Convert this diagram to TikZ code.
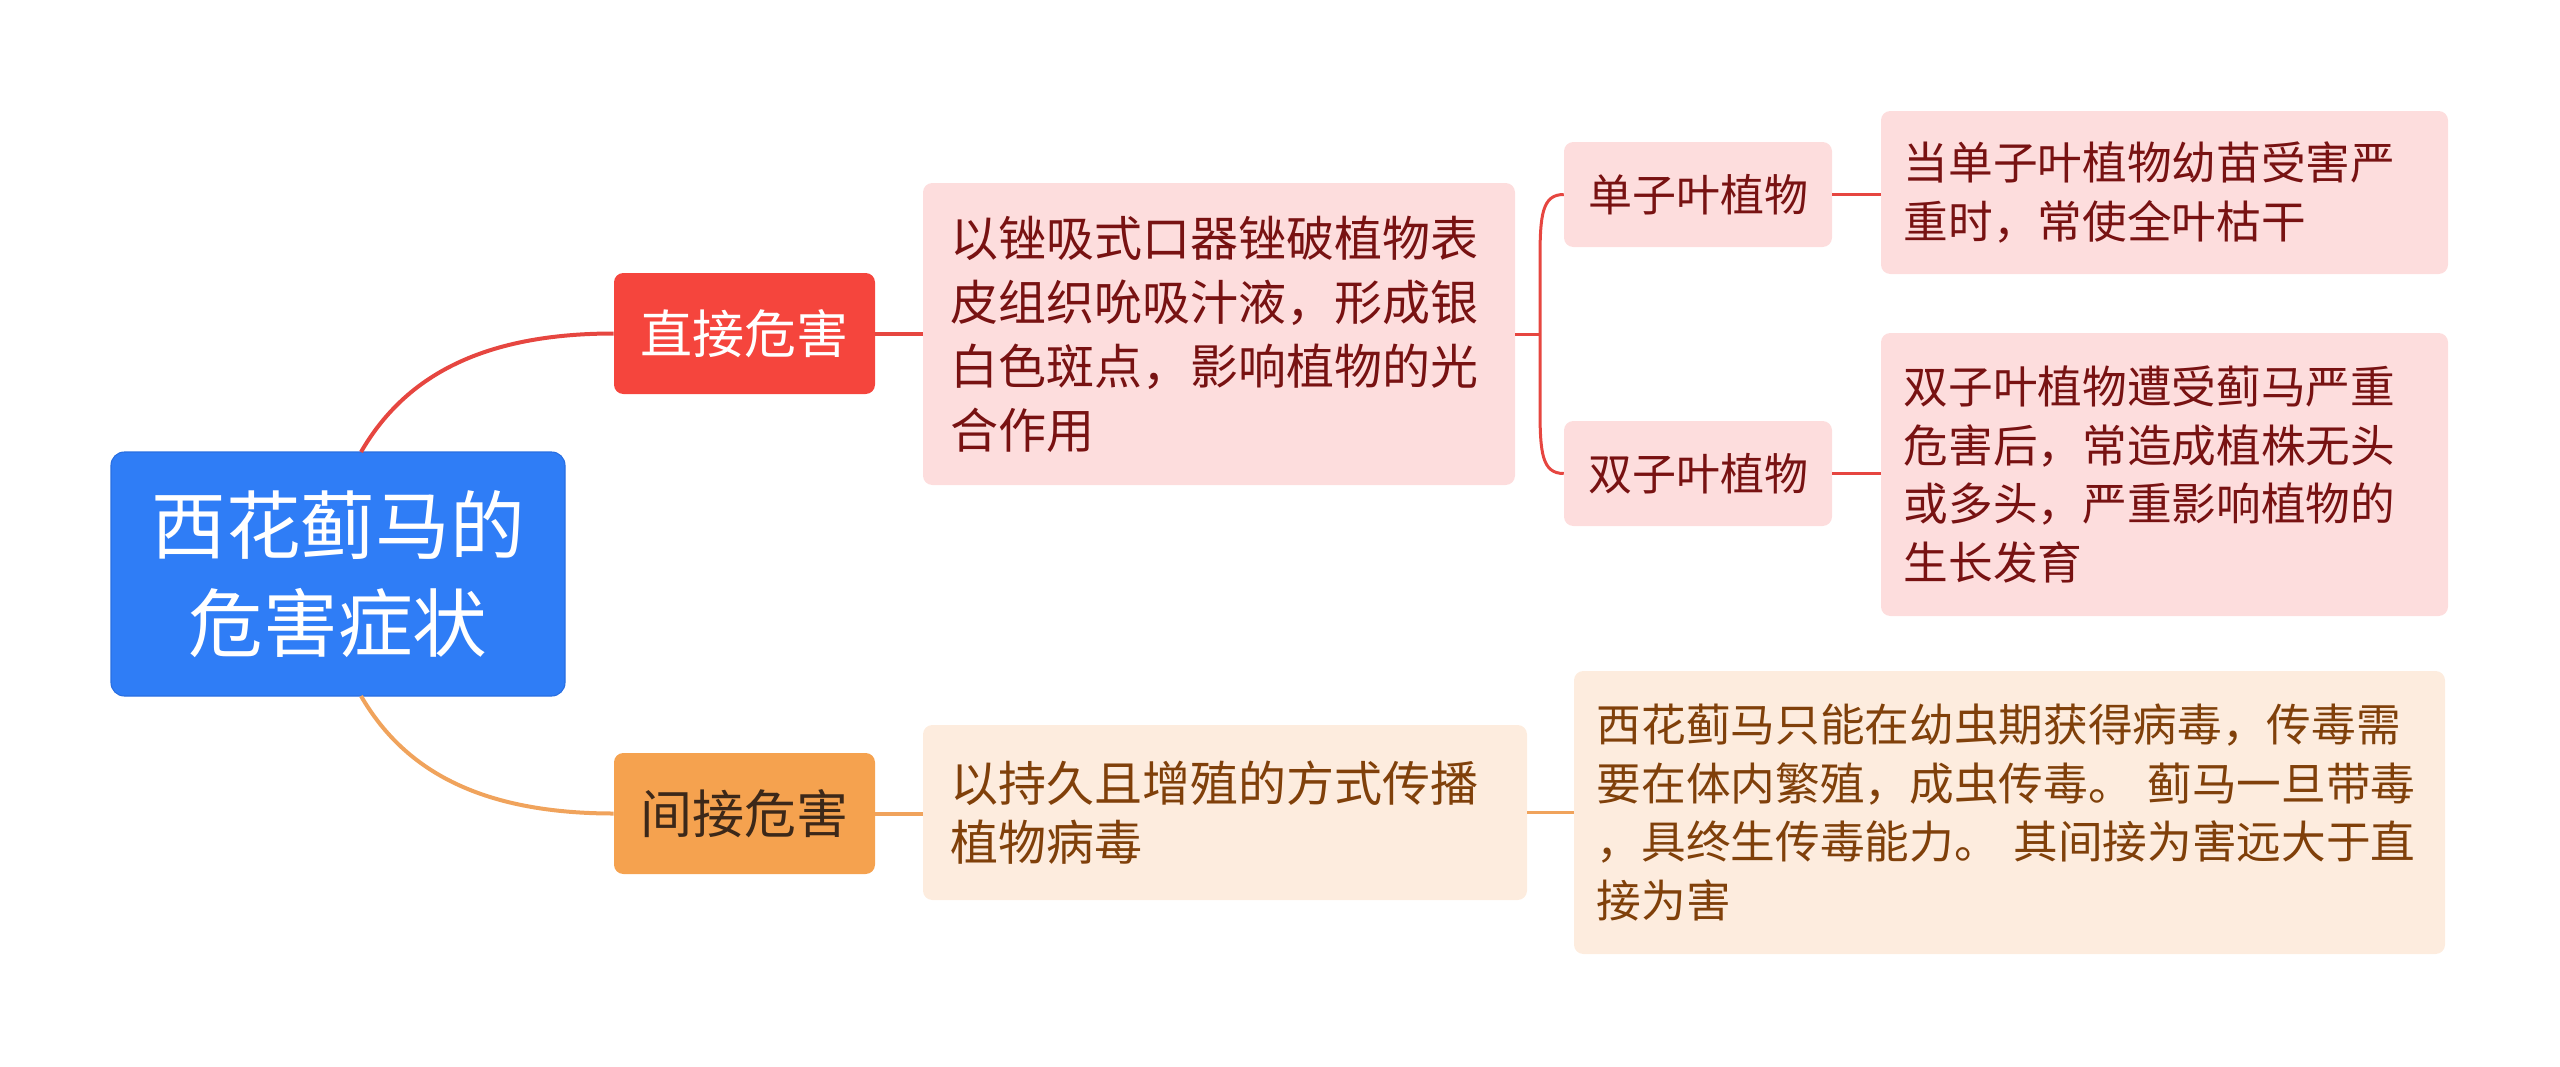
\documentclass[tikz,border=0pt]{standalone}
\usepackage{fontspec}
\setmainfont{Noto Sans CJK SC}
\usepackage{xcolor}

\definecolor{rootblue}{RGB}{47,125,246}
\definecolor{rootedge}{RGB}{40,110,225}
\definecolor{directred}{RGB}{245,69,61}
\definecolor{indirectorange}{RGB}{245,162,79}
\definecolor{redline}{RGB}{230,70,64}
\definecolor{orangeline}{RGB}{240,163,92}
\definecolor{pinkfill}{RGB}{253,221,221}
\definecolor{pinktext}{RGB}{120,18,18}
\definecolor{peachfill}{RGB}{253,236,222}
\definecolor{peachtext}{RGB}{128,64,10}
\definecolor{darktext}{RGB}{60,40,25}

\begin{document}
\begin{tikzpicture}[x=0.75pt,y=0.75pt,yscale=-1,xscale=1,
  rootbox/.style={fill=rootblue, draw=rootedge, line width=0.8pt, rounded corners=10pt, minimum width=340.5pt, minimum height=183pt, text=white, align=center, font=\fontsize{56}{73}\selectfont},
  topicbox/.style={rounded corners=7pt, minimum width=195.75pt, minimum height=90.75pt, font=\fontsize{39}{48}\selectfont},
  midbox/.style={rounded corners=7pt, inner xsep=20.25pt, align=left, font=\fontsize{36}{48}\selectfont},
  subbox/.style={fill=pinkfill, text=pinktext, rounded corners=7pt, minimum width=201pt, minimum height=78.75pt, font=\fontsize{33}{44}\selectfont},
  leafbox/.style={rounded corners=7pt, inner xsep=17pt, align=left, font=\fontsize{33.5}{44}\selectfont},
  redlink/.style={draw=redline, line width=3pt},
  orangelink/.style={draw=orangeline, line width=3pt}]
\useasboundingbox (0,0) rectangle (2560,1067);

%Root
\node [rootbox] (root) at (338,574) {西花蓟马的\\危害症状};

%Main branches
\node [topicbox, fill=directred, text=white] (direct) at (744.5,333.5) {直接危害};
\node [topicbox, fill=indirectorange, text=darktext] (indirect) at (744.5,813.5) {间接危害};

%Direct damage
\node [midbox, fill=pinkfill, text=pinktext, text width=403.5pt, minimum height=226.5pt] (feed) at (1219,334) {以锉吸式口器锉破植物表\\皮组织吮吸汁液，形成银\\白色斑点，影响植物的光\\合作用};
\node [subbox] (mono) at (1698,194.5) {单子叶植物};
\node [subbox] (dicot) at (1698,473.5) {双子叶植物};
\node [leafbox, fill=pinkfill, text=pinktext, text width=391.25pt, minimum height=122.25pt] (monoleaf) at (2164.5,192.5) {当单子叶植物幼苗受害严\\重时，常使全叶枯干};
\node [leafbox, fill=pinkfill, text=pinktext, text width=391.25pt, minimum height=212.25pt] (dicotleaf) at (2164.5,474.5) {双子叶植物遭受蓟马严重\\危害后，常造成植株无头\\或多头，严重影响植物的\\生长发育};

%Indirect damage
\node [midbox, fill=peachfill, text=peachtext, text width=412.5pt, minimum height=131.25pt, font=\fontsize{36}{44}\selectfont] (virus) at (1225,812.5) {以持久且增殖的方式传播\\植物病毒};
\node [leafbox, fill=peachfill, text=peachtext, text width=619.25pt, minimum height=212.25pt] (virusleaf) at (2009.5,812.5) {西花蓟马只能在幼虫期获得病毒，传毒需\\要在体内繁殖，成虫传毒。 蓟马一旦带毒\\，具终生传毒能力。 其间接为害远大于直\\接为害};

%Connectors
\coordinate (roottop) at (361,452);
\coordinate (rootbot) at (361,696);
\coordinate (fork) at (1540,334);
\coordinate (forktop) at (1540,260);
\coordinate (forkbot) at (1540,408);
\draw [redlink] (roottop) .. controls (400,385) and (470,333.5) .. (direct.west);
\draw [orangelink] (rootbot) .. controls (400,763) and (470,813.5) .. (indirect.west);
\draw [redlink] (direct.east) -- (feed.west |- direct.east);
\draw [redlink, line width=2.25pt] (feed.east) -- (fork);
\draw [redlink, line width=2.25pt] (mono.west) .. controls (1542,194.5) and (1540,215) .. (forktop) -- (forkbot) .. controls (1540,453) and (1542,473.5) .. (dicot.west);
\draw [redlink, line width=2.25pt] (mono.east) -- (mono.east -| monoleaf.west);
\draw [redlink, line width=2.25pt] (dicot.east) -- (dicot.east -| dicotleaf.west);
\draw [orangelink] (indirect.east) -- (virus.west |- indirect.east);
\draw [orangelink, line width=2.25pt] (virus.east) -- (virusleaf.west |- virus.east);

\end{tikzpicture}
\end{document}
